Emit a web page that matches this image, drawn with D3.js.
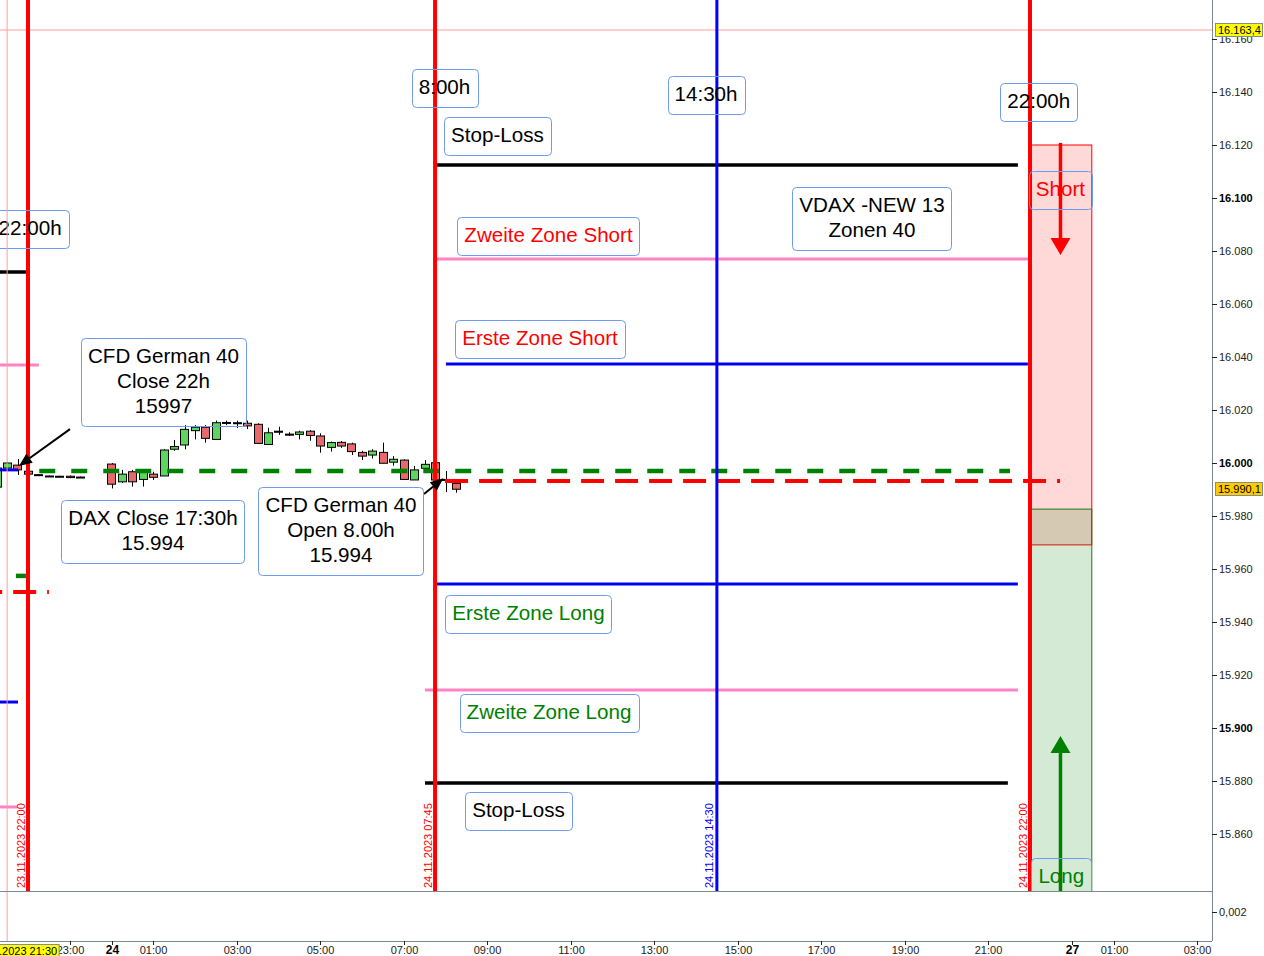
<!DOCTYPE html>
<html>
<head>
<meta charset="utf-8">
<script src="https://cdn.jsdelivr.net/npm/d3@7"></script>
<style>
  html, body { margin: 0; padding: 0; background: #fff; }
  svg { display: block; font-family: "Liberation Sans", Arial, sans-serif; }
</style>
</head>
<body>
<svg id="chart" width="1264" height="956"></svg>
<script>
// 15 minute candles, CFD German 40 ("dd HH:MM", November 2023)
const candleTime = [
  "23 21:15", "23 21:30", "23 21:45", "23 22:00", "23 22:15", "23 22:30", "23 22:45", "23 23:00", "23 23:15",
  "24 00:00", "24 00:15", "24 00:30", "24 00:45", "24 01:00", "24 01:15", "24 01:30", "24 01:45",
  "24 02:00", "24 02:15", "24 02:30", "24 02:45", "24 03:00", "24 03:15", "24 03:30", "24 03:45",
  "24 04:00", "24 04:15", "24 04:30", "24 04:45", "24 05:00", "24 05:15", "24 05:30", "24 05:45",
  "24 06:00", "24 06:15", "24 06:30", "24 06:45", "24 07:00", "24 07:15", "24 07:30", "24 07:45",
  "24 08:00", "24 08:15"
];
const candleOpen = [
  15990.9, 15998.1, 15999.2, 15996.9, 15995.6, 15995.1, 15995.0, 15995.0, 15994.7,
  15999.6, 15992.9, 15996.7, 15993.8, 15995.8, 15995.1, 16005.2, 16006.8,
  16012.2, 16013.5, 16008.9, 16015.3, 16015.2, 16015.0, 16014.6, 16007.0,
  16012.0, 16010.9, 16010.8, 16012.0, 16010.2, 16005.9, 16007.8, 16007.2,
  16004.0, 16003.0, 16004.0, 16000.3, 16001.1, 15993.6, 15998.0, 16000.1,
  15993.8, 15992.3
];
const candleHigh = [
  15998.5, 16000.4, 16001.5, 15997.2, 15995.8, 15995.3, 15995.2, 15995.3, 15994.9,
  16000.0, 15997.4, 15997.4, 15997.2, 15996.7, 16005.2, 16008.7, 16014.3,
  16014.3, 16014.3, 16016.0, 16016.0, 16016.0, 16016.0, 16015.0, 16013.3,
  16013.7, 16011.6, 16012.2, 16012.4, 16011.2, 16008.1, 16008.3, 16007.7,
  16004.6, 16005.2, 16007.7, 16002.6, 16001.4, 15998.9, 16001.1, 16000.6,
  15997.0, 15993.6
];
const candleLow = [
  15990.0, 15997.5, 15995.5, 15995.3, 15995.3, 15994.9, 15994.8, 15994.3, 15994.5,
  15990.4, 15992.5, 15991.1, 15991.1, 15993.6, 15995.1, 16004.6, 16005.2,
  16008.9, 16007.7, 16008.9, 16014.3, 16013.2, 16012.8, 16007.4, 16007.0,
  16010.6, 16010.2, 16008.9, 16008.4, 16003.9, 16004.3, 16005.7, 16003.0,
  16001.1, 16001.7, 15999.9, 15999.0, 15993.8, 15993.6, 15996.2, 15993.2,
  15989.0, 15988.8
];
const candleClose = [
  15998.1, 16000.0, 15997.4, 15995.8, 15995.5, 15995.1, 15994.9, 15994.5, 15994.7,
  15992.0, 15995.8, 15992.9, 15996.7, 15994.6, 16004.9, 16006.2, 16012.7,
  16013.5, 16009.3, 16015.2, 16015.2, 16015.1, 16014.0, 16007.4, 16011.4,
  16011.6, 16010.5, 16011.7, 16010.4, 16006.4, 16007.7, 16006.4, 16004.3,
  16002.6, 16004.5, 15999.9, 16001.4, 15993.8, 15997.4, 15999.5, 15993.6,
  15993.6, 15990.1
];

// price axis
const priceTicks = [15860, 15880, 15900, 15920, 15940, 15960, 15980, 16000, 16020, 16040, 16060, 16080, 16100, 16120, 16140, 16160];
const boldTicks = [15900, 16000, 16100];
const cursorPrice = 16163.4;
const lastPrice = 15990.1;

// time axis
const timeTicks = ["23 23:00", "24 00:00", "24 01:00", "24 03:00", "24 05:00", "24 07:00", "24 09:00", "24 11:00",
  "24 13:00", "24 15:00", "24 17:00", "24 19:00", "24 21:00", "27 00:00", "27 01:00", "27 03:00"];
const timeTickLabels = ["23:00", "24", "01:00", "03:00", "05:00", "07:00", "09:00", "11:00",
  "13:00", "15:00", "17:00", "19:00", "21:00", "27", "01:00", "03:00"];
const cursorTime = "23 21:30";
const cursorLabel = "23.11.2023 21:30";

// vertical time markers
const markerTime = ["23 22:00", "24 07:45", "24 14:30", "24 22:00"];
const markerLabel = ["23.11.2023 22:00", "24.11.2023 07:45", "24.11.2023 14:30", "24.11.2023 22:00"];
const markerKind = ["red", "red", "blue", "red"];

// horizontal zone levels (time in hours from 24.11. 00:00)
const levelPrice = [16112.5, 16077.0, 16037.4, 15997.0, 15993.2, 15954.3, 15914.3, 15879.2,
  16072.1, 16037.0, 15997.4, 15957.4, 15951.3, 15909.8, 15870.2];
const levelFrom = [7.77, 7.77, 8.01, -1.73, 7.99, 7.77, 7.51, 7.51,
  -3, -3, -3, -2.29, -3.17, -3, -3];
const levelTo = [21.71, 21.95, 21.95, 21.52, 22.72, 21.71, 21.71, 21.47,
  -2.05, -1.74, -2.24, -2.05, -1.5, -2.24, -2.26];
const levelKind = ["stop", "zone2", "zone1", "close", "open", "zone1", "zone2", "stop",
  "stop", "zone2", "zone1", "close", "open", "zone1", "zone2"];

// short / long target boxes after 22:00
const zoneFrom = 22.0, zoneTo = 23.48;
const shortZone = [16120, 15969.1];
const longZone = [15982.6, 15820];

// text notes (anchor: centre time, top price)
const noteLines = [["8:00h"], ["14:30h"], ["22:00h"], ["22:00h"], ["Stop-Loss"], ["Zweite Zone Short"],
  ["VDAX -NEW 13", "Zonen 40"], ["Erste Zone Short"], ["Short"], ["CFD German 40", "Close 22h", "15997"],
  ["DAX Close 17:30h", "15.994"], ["CFD German 40", "Open 8.00h", "15.994"], ["Erste Zone Long"],
  ["Zweite Zone Long"], ["Stop-Loss"], ["Long"]];
const noteTime = [7.976, 14.24, 22.21, -1.95, 9.245, 10.467, 18.216, 10.263, 22.73, 1.245, 0.994, 5.497, 9.988, 10.479, 9.749, 22.75];
const notePrice = [16148.7, 16146.0, 16143.4, 16095.5, 16130.6, 16092.8, 16104.2, 16054.0, 16110.2, 16047.2, 15986.0, 15990.9, 15950.2, 15912.8, 15875.8, 15850.9];
const noteKind = ["plain", "plain", "plain", "plain", "plain", "short", "plain", "short", "short",
  "plain", "plain", "plain", "long", "long", "plain", "long"];

// pointer arrows [time, price]
const pointerFrom = [[-0.994, 16012.8], [7.485, 15988.3]];
const pointerTo = [[-2.216, 15998.9], [7.95, 15994.2]];
const trendFrom = [[22.73, 16120.8], [22.73, 15820]];
const trendTo = [[22.73, 16078.5], [22.73, 15897.0]];
const trendKind = ["short", "long"];

/**
 * Chart setup
 */
const plotRight = 1212, plotBottom = 891, panelBottom = 941;
const de = d3.formatLocale({ decimal: ",", thousands: ".", grouping: [3], currency: ["", ""] });
const fmtPrice = de.format(",.0f");
const fmtExact = de.format(",.1f");

// hours since 24.11. 00:00, weekend skipped (Fri 22:00 -> Mon 00:00)
const sessionHours = (s) => {
  const [day, hm] = s.split(" ");
  const [hh, mm] = hm.split(":").map(Number);
  let h = (+day - 24) * 24 + hh + mm / 60;
  if (+day >= 27) h -= 49;
  return h;
};

const x = d3.scaleLinear().domain([-2, 22]).range([28, 1030]);
const y = d3.scaleLinear().domain([15900, 16000]).range([728, 463]);

const colors = { red: "#ff0000", blue: "#0000ff", short: "#ff0000", long: "#008000", plain: "#000000" };
const levelStyle = {
  stop: { stroke: "#000000", width: 3.5, dash: null },
  zone2: { stroke: "#ff82c4", width: 3, dash: null },
  zone1: { stroke: "#0000f0", width: 3, dash: null },
  close: { stroke: "#008000", width: 4.5, dash: "16,16" },
  open: { stroke: "#ff0000", width: 4, dash: "23,11" },
};

const svg = d3.select("#chart");
svg.append("rect").attr("width", 1264).attr("height", 956).attr("fill", "#fff");

svg.append("defs").append("clipPath").attr("id", "plotClip")
  .append("rect").attr("x", 0).attr("y", 0).attr("width", plotRight).attr("height", plotBottom);

const plot = svg.append("g").attr("clip-path", "url(#plotClip)");

// crosshair cursor
svg.append("line")
  .attr("x1", x(sessionHours(cursorTime))).attr("x2", x(sessionHours(cursorTime)))
  .attr("y1", 0).attr("y2", panelBottom)
  .attr("stroke", "#ff9c9c").attr("stroke-width", 1);
plot.append("line")
  .attr("x1", 0).attr("x2", plotRight)
  .attr("y1", y(cursorPrice)).attr("y2", y(cursorPrice))
  .attr("stroke", "#ff9c9c").attr("stroke-width", 1);

// target zones (overlap blends into brown)
plot.append("rect")
  .attr("x", x(zoneFrom)).attr("width", x(zoneTo) - x(zoneFrom))
  .attr("y", y(shortZone[0])).attr("height", y(shortZone[1]) - y(shortZone[0]))
  .attr("fill", "rgba(255,0,0,0.153)").attr("stroke", "#ff0000").attr("stroke-width", 1);
plot.append("rect")
  .attr("x", x(zoneFrom)).attr("width", x(zoneTo) - x(zoneFrom))
  .attr("y", y(longZone[0])).attr("height", y(longZone[1]) - y(longZone[0]))
  .attr("fill", "rgba(0,128,0,0.165)").attr("stroke", "#1a7a1a").attr("stroke-width", 1);

// candles
const candles = candleTime.map((t, i) => ({
  h: sessionHours(t), o: candleOpen[i], hi: candleHigh[i], lo: candleLow[i], c: candleClose[i],
}));
const bodyW = (x(0.25) - x(0)) * 0.78;
const candleG = plot.append("g").selectAll("g").data(candles).enter().append("g");
candleG.append("line")
  .attr("x1", (d) => Math.round(x(d.h)) + 0.5).attr("x2", (d) => Math.round(x(d.h)) + 0.5)
  .attr("y1", (d) => y(d.hi)).attr("y2", (d) => y(d.lo))
  .attr("stroke", "#000").attr("stroke-width", 1);
candleG.append("rect")
  .attr("x", (d) => Math.round(x(d.h) - bodyW / 2) + 0.5)
  .attr("width", Math.round(bodyW))
  .attr("y", (d) => y(Math.max(d.o, d.c)))
  .attr("height", (d) => Math.max(1, Math.abs(y(d.o) - y(d.c))))
  .attr("fill", (d) => (d.c >= d.o ? "#5cd65c" : "#e8696b"))
  .attr("stroke", "#000").attr("stroke-width", 1);

// zone levels
levelPrice.forEach((p, i) => {
  const st = levelStyle[levelKind[i]];
  plot.append("line")
    .attr("x1", x(levelFrom[i])).attr("x2", x(levelTo[i]))
    .attr("y1", y(p)).attr("y2", y(p))
    .attr("stroke", st.stroke).attr("stroke-width", st.width)
    .attr("stroke-dasharray", st.dash);
});

// vertical markers
markerTime.forEach((t, i) => {
  const mx = x(sessionHours(t));
  plot.append("line")
    .attr("x1", mx).attr("x2", mx).attr("y1", 0).attr("y2", plotBottom)
    .attr("stroke", colors[markerKind[i]])
    .attr("stroke-width", markerKind[i] === "blue" ? 3 : 4);
  plot.append("text")
    .attr("transform", `translate(${mx - 3.5},${plotBottom - 3}) rotate(-90)`)
    .attr("fill", colors[markerKind[i]])
    .attr("font-size", "11px")
    .text(markerLabel[i]);
});

// arrow helper: line plus filled head at the tip
const drawArrow = (from, to, color, width, headLen, headW) => {
  const x1 = x(from[0]), y1 = y(from[1]), x2 = x(to[0]), y2 = y(to[1]);
  const ang = Math.atan2(y2 - y1, x2 - x1);
  const bx = x2 - headLen * Math.cos(ang), by = y2 - headLen * Math.sin(ang);
  const nx = -Math.sin(ang) * headW / 2, ny = Math.cos(ang) * headW / 2;
  plot.append("line")
    .attr("x1", x1).attr("y1", y1).attr("x2", bx).attr("y2", by)
    .attr("stroke", color).attr("stroke-width", width);
  plot.append("polygon")
    .attr("points", `${x2},${y2} ${bx + nx},${by + ny} ${bx - nx},${by - ny}`)
    .attr("fill", color);
};

trendFrom.forEach((f, i) => drawArrow(f, trendTo[i], colors[trendKind[i]], 3.5, 17, 20));
pointerFrom.forEach((f, i) => drawArrow(f, pointerTo[i], "#000", 2, 13, 11));

// note boxes
noteLines.forEach((lines, i) => {
  const g = plot.append("g");
  const box = g.append("rect");
  const cx = x(noteTime[i]), top = y(notePrice[i]);
  let maxW = 0;
  lines.forEach((ln, k) => {
    const t = g.append("text")
      .attr("x", cx).attr("y", top + 25 + k * 25)
      .attr("text-anchor", "middle")
      .attr("font-size", "20.6px")
      .attr("fill", colors[noteKind[i]])
      .text(ln);
    maxW = Math.max(maxW, t.node().getComputedTextLength());
  });
  const w = maxW + 14;
  box.attr("x", Math.round(cx - w / 2) + 0.5).attr("y", Math.round(top) + 0.5)
    .attr("width", Math.round(w)).attr("height", 13 + 25 * lines.length)
    .attr("rx", 4).attr("ry", 4)
    .attr("fill", "none").attr("stroke", "#6f9bef").attr("stroke-width", 1);
});

/**
 * Axes
 */
const axisColor = "#7b8996";
svg.append("line").attr("x1", plotRight + 0.5).attr("x2", plotRight + 0.5)
  .attr("y1", 0).attr("y2", panelBottom).attr("stroke", axisColor);
svg.append("line").attr("x1", 0).attr("x2", plotRight)
  .attr("y1", plotBottom + 0.5).attr("y2", plotBottom + 0.5).attr("stroke", axisColor);
svg.append("line").attr("x1", 0).attr("x2", plotRight)
  .attr("y1", panelBottom + 0.5).attr("y2", panelBottom + 0.5).attr("stroke", axisColor);

// price axis
const yAxis = svg.append("g");
priceTicks.forEach((p) => {
  const ty = Math.round(y(p)) + 0.5;
  yAxis.append("line").attr("x1", plotRight).attr("x2", plotRight + 5)
    .attr("y1", ty).attr("y2", ty).attr("stroke", "#222");
  yAxis.append("text")
    .attr("x", plotRight + 7).attr("y", ty + 3.5)
    .attr("font-size", "11px")
    .attr("font-weight", boldTicks.includes(p) ? "bold" : "normal")
    .attr("fill", boldTicks.includes(p) ? "#000" : "#222")
    .text(fmtPrice(p));
});

// lower panel tick
svg.append("line").attr("x1", plotRight).attr("x2", plotRight + 5)
  .attr("y1", 912.5).attr("y2", 912.5).attr("stroke", "#222");
svg.append("text").attr("x", plotRight + 7).attr("y", 916)
  .attr("font-size", "11px").attr("fill", "#222").text("0,002");

// price tags
const priceTag = (p, fill) => {
  const ty = y(p);
  svg.append("rect").attr("x", 1215.5).attr("y", Math.round(ty) - 6.5)
    .attr("width", 47).attr("height", 13)
    .attr("fill", fill).attr("stroke", "#8a8a8a");
  svg.append("text").attr("x", 1218).attr("y", Math.round(ty) + 4)
    .attr("font-size", "11px").attr("fill", "#000").text(fmtExact(p));
};
priceTag(cursorPrice, "#ffff00");
priceTag(lastPrice, "#ffcc00");

// time axis
timeTicks.forEach((t, i) => {
  const tx = Math.round(x(sessionHours(t))) + 0.5;
  const bold = !timeTickLabels[i].includes(":");
  svg.append("line").attr("x1", tx).attr("x2", tx)
    .attr("y1", panelBottom).attr("y2", panelBottom + 4).attr("stroke", "#222");
  svg.append("text")
    .attr("x", tx).attr("y", 954)
    .attr("text-anchor", "middle")
    .attr("font-size", bold ? "12px" : "11px")
    .attr("font-weight", bold ? "bold" : "normal")
    .attr("fill", bold ? "#000" : "#222")
    .text(timeTickLabels[i]);
});

// cursor time tag
const cx0 = x(sessionHours(cursorTime));
svg.append("rect").attr("x", cx0 - 60).attr("y", 944.5).attr("width", 112).attr("height", 14)
  .attr("fill", "#ffff00").attr("stroke", "#8a8a8a");
svg.append("text").attr("x", cx0 + 50).attr("y", 955)
  .attr("text-anchor", "end").attr("font-size", "11px").attr("fill", "#000")
  .text(cursorLabel);
</script>
</body>
</html>
